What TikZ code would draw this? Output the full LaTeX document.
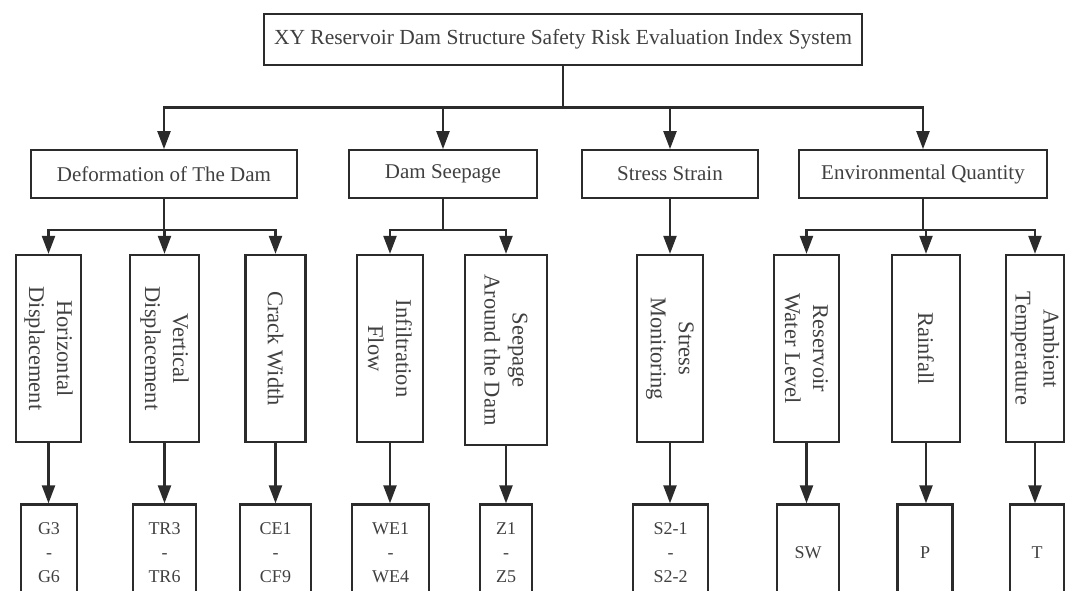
\documentclass[tikz,border=0pt]{standalone}
\usepackage{fontspec}
\setmainfont{Liberation Serif}
\usetikzlibrary{arrows.meta}
\definecolor{ln}{HTML}{2B2B2B}
\definecolor{tx}{HTML}{404040}
\begin{document}
\begin{tikzpicture}[x=1pt,y=-1pt,
  box/.style={draw=ln,line width=2.3pt,rectangle,inner sep=0pt,text=tx,align=center},
  top/.style={box,font=\fontsize{21.5}{24}\selectfont},
  lvltwo/.style={box,font=\fontsize{21}{24}\selectfont,minimum height=47.5pt},
  lvlthree/.style={box,minimum height=187pt},
  vtext/.style={font=\fontsize{22.5}{28}\selectfont,text=tx,align=center,rotate=-90,inner sep=0pt},
  lvlfour/.style={box,font=\fontsize{18}{24}\selectfont,minimum height=96pt},
  arr/.style={draw=ln,line width=2.3pt,-{Triangle[length=18pt,width=13pt]}},
  ln/.style={draw=ln,line width=2.3pt}
]
\useasboundingbox (0,0) rectangle (1072,591);
% top
\node[top,minimum width=598pt,minimum height=51pt] (root) at (563,39.5) {XY Reservoir Dam Structure Safety Risk Evaluation Index System};
% level two
\node[lvltwo,minimum width=266pt] (def) at (164,174) {Deformation of The Dam};
\node[lvltwo,minimum width=188pt] (seep) at (443,174) {Dam Seepage};
\node[lvltwo,minimum width=176pt] (ss) at (670,174) {Stress Strain};
\node[lvltwo,minimum width=248pt] (env) at (923,174) {Environmental Quantity};
% level three
\node[lvlthree,minimum width=65.5pt] (hd) at (48.5,348.5) {};
\node[vtext] at (hd) {Horizontal\\Displacement};
\node[lvlthree,minimum width=69pt] (vd) at (164.5,348.5) {};
\node[vtext] at (vd) {Vertical\\Displacement};
\node[lvlthree,minimum width=60pt] (cw) at (275.5,348.5) {};
\node[vtext] at (cw) {Crack Width};
\node[lvlthree,minimum width=66pt] (inf) at (390,348.5) {};
\node[vtext] at (inf) {Infiltration\\Flow};
\node[lvlthree,minimum width=82pt,minimum height=190pt] (sad) at (506,350) {};
\node[vtext] at (sad) {Seepage\\Around the Dam};
\node[lvlthree,minimum width=66pt] (sm) at (670,348.5) {};
\node[vtext] at (sm) {Stress\\Monitoring};
\node[lvlthree,minimum width=65pt] (rwl) at (806.5,348.5) {};
\node[vtext] at (rwl) {Reservoir\\Water Level};
\node[lvlthree,minimum width=68pt] (rf) at (926,348.5) {};
\node[vtext] at (rf) {Rainfall};
\node[lvlthree,minimum width=58pt] (at) at (1035,348.5) {};
\node[vtext] at (at) {Ambient\\Temperature};
% level four
\node[lvlfour,minimum width=55.5pt] (g) at (49,552.5) {G3\\-\\G6};
\node[lvlfour,minimum width=63pt] (tr) at (164.5,552.5) {TR3\\-\\TR6};
\node[lvlfour,minimum width=71pt] (ce) at (275.5,552.5) {CE1\\-\\CF9};
\node[lvlfour,minimum width=77pt] (we) at (390.5,552.5) {WE1\\-\\WE4};
\node[lvlfour,minimum width=52pt] (z) at (506,552.5) {Z1\\-\\Z5};
\node[lvlfour,minimum width=75pt] (s) at (670.5,552.5) {S2-1\\-\\S2-2};
\node[lvlfour,minimum width=62pt] (sw) at (808,552.5) {SW};
\node[lvlfour,minimum width=55pt] (p) at (925,552.5) {P};
\node[lvlfour,minimum width=53.5pt] (t) at (1037,552.5) {T};
% junction coordinates
\coordinate (bar) at (563,107.5);
\coordinate (dbar) at (164,230);
\coordinate (sbar) at (443,230);
\coordinate (ebar) at (923,230);
% root to level two
\draw[ln] (root.south) -- (bar);
\draw[arr] (bar) -| (def.north);
\draw[arr] (bar) -| (seep.north);
\draw[arr] (bar) -| (ss.north);
\draw[arr] (bar) -| (env.north);
% level two to three
\draw[ln] (def.south) -- (dbar);
\draw[arr] (dbar) -| (hd.north);
\draw[arr] (dbar) -| (vd.north);
\draw[arr] (dbar) -| (cw.north);
\draw[ln] (seep.south) -- (sbar);
\draw[arr] (sbar) -| (inf.north);
\draw[arr] (sbar) -| (sad.north);
\draw[arr] (ss.south) -- (sm.north);
\draw[ln] (env.south) -- (ebar);
\draw[arr] (ebar) -| (rwl.north);
\draw[arr] (ebar) -| (rf.north);
\draw[arr] (ebar) -| (at.north);
% level three to four
\draw[arr] (hd.south) -- (hd.south |- g.north);
\draw[arr] (vd.south) -- (vd.south |- tr.north);
\draw[arr] (cw.south) -- (cw.south |- ce.north);
\draw[arr] (inf.south) -- (inf.south |- we.north);
\draw[arr] (sad.south) -- (sad.south |- z.north);
\draw[arr] (sm.south) -- (sm.south |- s.north);
\draw[arr] (rwl.south) -- (rwl.south |- sw.north);
\draw[arr] (rf.south) -- (rf.south |- p.north);
\draw[arr] (at.south) -- (at.south |- t.north);
\end{tikzpicture}
\end{document}
